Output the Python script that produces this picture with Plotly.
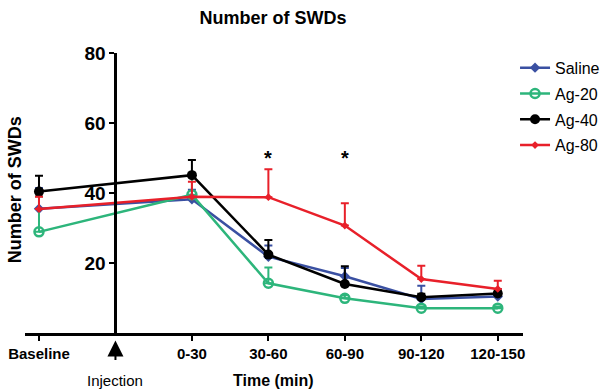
import plotly.graph_objects as go

# ---- data ----
categories = ["Baseline", "0-30", "30-60", "60-90", "90-120", "120-150"]
x_pos = [0, 2, 3, 4, 5, 6]          # category slots; slot 1 = injection
injection_x = 1

saline      = [35.5, 38.2, 21.8, 16.2, 9.7, 10.4]
saline_up   = [41.4, 40.9, 25.0, 18.6, 13.5, 12.6]
ag20        = [28.9, 39.5, 14.2, 9.9, 7.1, 7.1]
ag20_up     = [39.0, 45.5, 18.7, 10.8, 7.6, 7.6]
ag40        = [40.4, 45.1, 22.4, 14.0, 10.2, 11.3]
ag40_up     = [44.9, 49.4, 26.6, 19.1, 11.2, 12.0]
ag80        = [35.4, 38.9, 38.8, 30.7, 15.4, 12.6]
ag80_up     = [38.9, 43.2, 46.8, 37.1, 19.2, 14.9]

star_x = [3, 4]
star_y = [50.0, 50.0]

y_ticks = [20, 40, 60, 80]

FONT = "Liberation Sans, Arial, sans-serif"

series = [
    ("Saline", saline, saline_up, "#3a50a2", dict(symbol="diamond", size=8, color="#3a50a2")),
    ("Ag-20", ag20, ag20_up, "#2db57b", dict(symbol="circle-open", size=9, color="#2db57b", line=dict(width=2.5))),
    ("Ag-40", ag40, ag40_up, "#000000", dict(symbol="circle", size=10, color="#000000")),
    ("Ag-80", ag80, ag80_up, "#e8202a", dict(symbol="diamond", size=6, color="#e8202a")),
]

fig = go.Figure()
for name, vals, up, col, mk in series:
    fig.add_trace(go.Scatter(
        x=x_pos, y=vals, name=name, mode="lines+markers", legendgroup=name,
        line=dict(color=col, width=2.5), marker=mk,
        error_y=dict(type="data", symmetric=False,
                     array=[u - v for u, v in zip(up, vals)],
                     arrayminus=[0] * len(vals),
                     color=col, thickness=2, width=4),
    ))

xmin, xmax = -0.183, 6.33
fig.update_layout(
    width=603, height=392,
    margin=dict(l=25, r=80, t=53, b=59, autoexpand=False),
    plot_bgcolor="white", paper_bgcolor="white",
    font=dict(family=FONT, color="black"),
    title=dict(text="Number of SWDs", x=0.498, xref="paper", xanchor="center",
               y=1 - 18 / 392, yanchor="middle",
               font=dict(size=18, weight="bold", family=FONT)),
    xaxis=dict(range=[xmin, xmax], tickvals=x_pos, ticktext=categories,
               showline=True, linecolor="black", linewidth=3,
               ticks="outside", ticklen=5, tickwidth=2, tickcolor="black",
               showgrid=False, zeroline=False,
               tickfont=dict(size=15, weight="bold", family=FONT)),
    yaxis=dict(range=[0, 80], tickvals=y_ticks, anchor="free",
               position=(injection_x - xmin) / (xmax - xmin),
               showline=True, linecolor="black", linewidth=3,
               ticks="outside", ticklen=5, tickwidth=2, tickcolor="black",
               showgrid=False, zeroline=False,
               tickfont=dict(size=19, weight="bold", family=FONT)),
    legend=dict(x=0.984, y=1.008, xref="paper", yref="paper", xanchor="left", yanchor="top",
                font=dict(size=16, family=FONT), bgcolor="rgba(0,0,0,0)",
                tracegroupgap=2, itemwidth=30),
    showlegend=True,
)

for sx, sy in zip(star_x, star_y):
    fig.add_annotation(x=sx, y=sy, text="*", showarrow=False, xref="x", yref="y",
                       font=dict(size=20, weight="bold", family=FONT))

fig.add_annotation(x=-0.02, y=0.51, xref="paper", yref="paper", text="Number of SWDs",
                   textangle=-90, showarrow=False, xanchor="center", yanchor="middle",
                   font=dict(size=18, weight="bold", family=FONT))
fig.add_annotation(x=3.07, y=-0.168, xref="x", yref="paper", text="Time (min)",
                   showarrow=False, xanchor="center", yanchor="middle",
                   font=dict(size=16, weight="bold", family=FONT))
fig.add_annotation(x=injection_x, y=-0.168, xref="x", yref="paper", text="Injection",
                   showarrow=False, xanchor="center", yanchor="middle",
                   font=dict(size=15, family=FONT))
fig.add_annotation(x=injection_x, y=-0.027, xref="x", yref="paper", text="",
                   showarrow=True, ax=0, ay=21, arrowhead=2, arrowsize=1.6,
                   arrowwidth=2, arrowcolor="black")

fig.write_html("out.html")
